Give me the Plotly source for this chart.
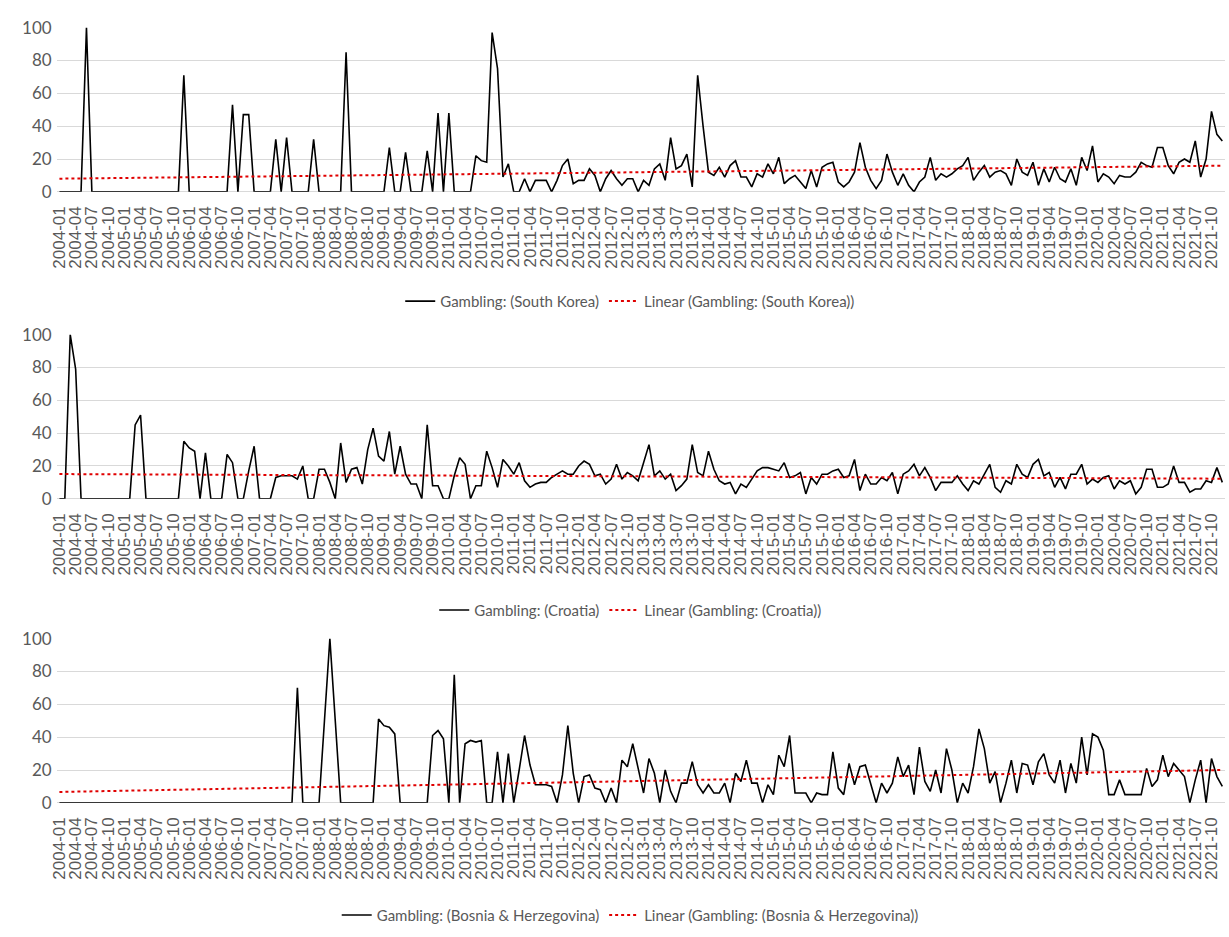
import numpy as np
import plotly.graph_objects as go

# ---------------- data ----------------
months = [f"{y}-{m:02d}" for y in range(2004, 2022) for m in range(1, 13)]
tick_labels = months[::3]

south_korea = [
    0, 0, 0, 0, 0, 100, 0, 0, 0, 0, 0, 0,          # 2004
    0, 0, 0, 0, 0, 0, 0, 0, 0, 0, 0, 71,           # 2005
    0, 0, 0, 0, 0, 0, 0, 0, 53, 0, 47, 47,         # 2006
    0, 0, 0, 0, 32, 0, 33, 0, 0, 0, 0, 32,         # 2007
    0, 0, 0, 0, 0, 85, 0, 0, 0, 0, 0, 0,           # 2008
    0, 27, 0, 0, 24, 0, 0, 0, 25, 0, 48, 0,        # 2009
    48, 0, 0, 0, 0, 22, 19, 18, 97, 75, 9, 17,     # 2010
    0, 0, 8, 0, 7, 7, 7, 0, 7, 16, 20, 5,          # 2011
    7, 7, 14, 10, 0, 8, 13, 8, 4, 8, 8, 0,         # 2012
    7, 4, 14, 17, 7, 33, 14, 16, 23, 3, 71, 40,    # 2013
    12, 10, 15, 9, 16, 19, 9, 9, 3, 11, 9, 17,     # 2014
    11, 21, 5, 8, 10, 6, 2, 13, 3, 15, 17, 18,     # 2015
    6, 3, 6, 12, 30, 15, 7, 2, 7, 23, 12, 4,       # 2016
    11, 4, 0, 6, 9, 21, 7, 11, 9, 11, 14, 16,      # 2017
    21, 7, 12, 16, 9, 12, 13, 11, 4, 20, 12, 10,   # 2018
    18, 4, 14, 6, 15, 8, 6, 14, 4, 21, 13, 28,     # 2019
    6, 11, 9, 5, 10, 9, 9, 12, 18, 16, 15, 27,     # 2020
    27, 16, 11, 18, 20, 18, 31, 9, 20, 49, 35, 31, # 2021
]

croatia = [
    0, 0, 100, 79, 0, 0, 0, 0, 0, 0, 0, 0,         # 2004
    0, 0, 45, 51, 0, 0, 0, 0, 0, 0, 0, 35,         # 2005
    31, 29, 0, 28, 0, 0, 0, 27, 22, 0, 0, 17,      # 2006
    32, 0, 0, 0, 13, 14, 14, 14, 12, 20, 0, 0,     # 2007
    18, 18, 10, 0, 34, 10, 18, 19, 9, 30, 43, 26,  # 2008
    23, 41, 15, 32, 15, 9, 9, 0, 45, 8, 8, 0,      # 2009
    0, 14, 25, 21, 0, 8, 8, 29, 19, 7, 24, 20,     # 2010
    15, 22, 11, 7, 9, 10, 10, 13, 15, 17, 15, 15,  # 2011
    20, 23, 21, 14, 15, 9, 12, 21, 12, 16, 14, 11, # 2012
    22, 33, 14, 17, 12, 15, 5, 8, 12, 33, 16, 14,  # 2013
    29, 18, 11, 9, 10, 3, 9, 7, 12, 17, 19, 19,    # 2014
    18, 17, 22, 13, 14, 16, 3, 13, 9, 15, 15, 17,  # 2015
    18, 13, 14, 24, 5, 15, 9, 9, 13, 11, 16, 3,    # 2016
    15, 17, 21, 14, 19, 13, 5, 10, 10, 10, 14, 9,  # 2017
    5, 11, 9, 15, 21, 7, 4, 11, 9, 21, 15, 13,     # 2018
    21, 24, 14, 16, 7, 13, 6, 15, 15, 21, 9, 12,   # 2019
    10, 13, 14, 6, 11, 9, 11, 3, 7, 18, 18, 7,     # 2020
    7, 9, 20, 10, 10, 4, 6, 6, 11, 10, 19, 10,     # 2021
]

bosnia = [
    0, 0, 0, 0, 0, 0, 0, 0, 0, 0, 0, 0,            # 2004
    0, 0, 0, 0, 0, 0, 0, 0, 0, 0, 0, 0,            # 2005
    0, 0, 0, 0, 0, 0, 0, 0, 0, 0, 0, 0,            # 2006
    0, 0, 0, 0, 0, 0, 0, 0, 70, 0, 0, 0,           # 2007
    0, 50, 100, 50, 0, 0, 0, 0, 0, 0, 0, 51,       # 2008
    47, 46, 42, 0, 0, 0, 0, 0, 0, 41, 44, 39,      # 2009
    0, 78, 0, 36, 38, 37, 38, 0, 0, 31, 0, 30,     # 2010
    0, 20, 41, 23, 11, 11, 11, 10, 0, 17, 47, 18,  # 2011
    0, 16, 17, 9, 8, 0, 9, 0, 26, 22, 36, 21,      # 2012
    6, 27, 18, 0, 20, 7, 0, 12, 12, 25, 11, 6,     # 2013
    11, 6, 6, 12, 0, 18, 13, 26, 12, 12, 0, 11,    # 2014
    5, 29, 22, 41, 6, 6, 6, 0, 6, 5, 5, 31,        # 2015
    9, 5, 24, 11, 22, 23, 12, 0, 12, 6, 12, 28,    # 2016
    16, 23, 5, 34, 13, 7, 20, 6, 33, 20, 0, 12,    # 2017
    6, 22, 45, 33, 12, 19, 0, 12, 26, 6, 24, 23,   # 2018
    11, 25, 30, 17, 12, 26, 6, 24, 12, 40, 17, 42, # 2019
    40, 32, 5, 5, 14, 5, 5, 5, 5, 21, 10, 14,      # 2020
    29, 16, 24, 20, 16, 0, 14, 26, 0, 27, 16, 10,  # 2021
]

series_names = ["South Korea", "Croatia", "Bosnia & Herzegovina"]
series_values = [south_korea, croatia, bosnia]

# ---------------- layout geometry (pixels of a 1229x937 page) ----------------
W, H = 1229, 937
panels = [(17, 185, 297), (331, 499, 613), (642, 810, 925)]  # top, bottom, legend centre
x_dom = [50 / W, 1225 / W]

GREY = "#595959"
fig = go.Figure()

for k, (name, vals) in enumerate(zip(series_names, series_values)):
    sfx = "" if k == 0 else str(k + 1)
    xa, ya, lg = "x" + sfx, "y" + sfx, "legend" + sfx
    idx = np.arange(len(vals))
    coef = np.polyfit(idx, np.array(vals, dtype=float), 1)
    trend = np.polyval(coef, idx)

    fig.add_trace(go.Scatter(
        x=months, y=vals, mode="lines", name=f"Gambling: ({name})",
        line=dict(color="black", width=1.6), xaxis=xa, yaxis=ya, legend=lg,
        cliponaxis=False))
    fig.add_trace(go.Scatter(
        x=months, y=trend, mode="lines", name=f"Linear (Gambling: ({name}))",
        line=dict(color="#E00000", width=2, dash="dot"), xaxis=xa, yaxis=ya,
        legend=lg))

    top, bot, leg = panels[k]
    fig.layout["xaxis" + sfx] = dict(
        type="category", categoryorder="array", categoryarray=months,
        range=[-0.5, len(months) - 0.5], domain=x_dom, anchor=ya,
        tickmode="array", tickvals=tick_labels, ticktext=tick_labels,
        tickangle=-90, tickfont=dict(family="Liberation Sans", size=17, color=GREY),
        showgrid=False, showline=False, zeroline=False, ticks="",
        ticklabelstandoff=10)
    fig.layout["yaxis" + sfx] = dict(
        range=[0, 100], dtick=20, domain=[1 - bot / H, 1 - top / H], anchor=xa,
        showgrid=True, gridcolor="#D9D9D9", gridwidth=1,
        zeroline=True, zerolinecolor="#D9D9D9", zerolinewidth=1,
        showline=False, ticks="",
        tickfont=dict(family="Lato", size=17, color=GREY), ticklabelstandoff=4)
    fig.layout[lg] = dict(
        orientation="h", x=0.51, xanchor="center", y=1 - leg / H, yanchor="middle",
        font=dict(family="Lato", size=15, color=GREY), itemwidth=30,
        bgcolor="rgba(0,0,0,0)", traceorder="normal")

fig.update_layout(
    width=W, height=H, margin=dict(l=0, r=0, t=0, b=0),
    paper_bgcolor="white", plot_bgcolor="white", showlegend=True)

fig.write_html(
    "out.html",
    config={"displayModeBar": False},
    post_script="document.body.style.margin='0px';document.body.style.overflow='hidden';")
